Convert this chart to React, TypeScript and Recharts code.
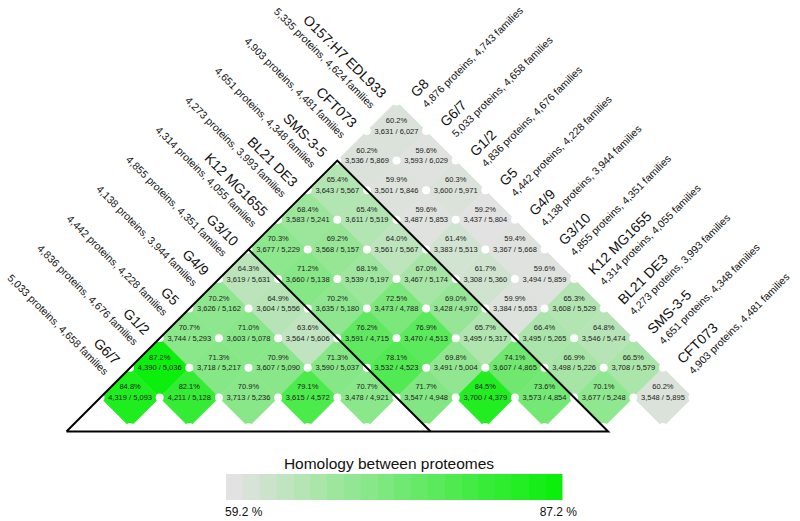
import { ScatterChart, Scatter, XAxis, YAxis } from 'recharts'

// strains read along the two diagonals
const leftStrains = ['O157:H7 EDL933', 'CFT073', 'SMS-3-5', 'BL21 DE3', 'K12 MG1655', 'G3/10', 'G4/9', 'G5', 'G1/2', 'G6/7']
const leftInfo = [
  '5,335 proteins, 4,624 families',
  '4,903 proteins, 4,481 families',
  '4,651 proteins, 4,348 families',
  '4,273 proteins, 3,993 families',
  '4,314 proteins, 4,055 families',
  '4,855 proteins, 4,351 families',
  '4,138 proteins, 3,944 families',
  '4,442 proteins, 4,228 families',
  '4,836 proteins, 4,676 families',
  '5,033 proteins, 4,658 families',
]
const rightStrains = ['G8', 'G6/7', 'G1/2', 'G5', 'G4/9', 'G3/10', 'K12 MG1655', 'BL21 DE3', 'SMS-3-5', 'CFT073']
const rightInfo = [
  '4,876 proteins, 4,743 families',
  '5,033 proteins, 4,658 families',
  '4,836 proteins, 4,676 families',
  '4,442 proteins, 4,228 families',
  '4,138 proteins, 3,944 families',
  '4,855 proteins, 4,351 families',
  '4,314 proteins, 4,055 families',
  '4,273 proteins, 3,993 families',
  '4,651 proteins, 4,348 families',
  '4,903 proteins, 4,481 families',
]

// one row per level of the triangle, left to right
const homology = [
  [60.2],
  [60.2, 59.6],
  [65.4, 59.9, 60.3],
  [68.4, 65.4, 59.6, 59.2],
  [70.3, 69.2, 64.0, 61.4, 59.4],
  [64.3, 71.2, 68.1, 67.0, 61.7, 59.6],
  [70.2, 64.9, 70.2, 72.5, 69.0, 59.9, 65.3],
  [70.7, 71.0, 63.6, 76.2, 76.9, 65.7, 66.4, 64.8],
  [87.2, 71.3, 70.9, 71.3, 78.1, 69.8, 74.1, 66.9, 66.5],
  [84.8, 82.1, 70.9, 79.1, 70.7, 71.7, 84.5, 73.6, 70.1, 60.2],
]
const sharedFamilies = [
  [3631],
  [3536, 3593],
  [3643, 3501, 3600],
  [3583, 3611, 3487, 3437],
  [3677, 3568, 3561, 3383, 3367],
  [3619, 3660, 3539, 3467, 3308, 3494],
  [3626, 3604, 3635, 3473, 3428, 3384, 3608],
  [3744, 3603, 3564, 3591, 3470, 3495, 3495, 3546],
  [4390, 3718, 3607, 3590, 3532, 3491, 3607, 3498, 3708],
  [4319, 4211, 3713, 3615, 3478, 3547, 3700, 3573, 3677, 3548],
]
const totalFamilies = [
  [6027],
  [5869, 6029],
  [5567, 5846, 5971],
  [5241, 5519, 5853, 5804],
  [5229, 5157, 5567, 5513, 5668],
  [5631, 5138, 5197, 5174, 5360, 5859],
  [5162, 5556, 5180, 4788, 4970, 5653, 5529],
  [5293, 5078, 5606, 4715, 4513, 5317, 5265, 5474],
  [5036, 5217, 5090, 5037, 4523, 5004, 4865, 5226, 5579],
  [5093, 5128, 5236, 4572, 4921, 4948, 4379, 4854, 5248, 5895],
]
// groups outlined by black triangles (index into leftStrains)
const groupStarts = [2, 5]

const legendTitle = 'Homology between proteomes'
const legendMin = 59.2
const legendMax = 87.2

const W = 800
const H = 521
const UNIT = 29.6
const OX = 396.5
const OY = 131
const BASE = 10.15
const FONT = '"Liberation Sans", Arial, sans-serif'

const colorFor = (v: number) => {
  const t = Math.max(0, Math.min(1, (v - legendMin) / (legendMax - legendMin)))
  const from = [226, 226, 226]
  const to = [12, 238, 12]
  return `rgb(${from.map((f, i) => Math.round(f + (to[i] - f) * t)).join(',')})`
}
const fmt = (n: number) => n.toLocaleString('en-US')

const cells = homology.flatMap((row, r) =>
  row.map((v, k) => {
    const b = k
    const a = r - k
    return { x: b - a, y: a + b, pct: v, shared: sharedFamilies[r][k], total: totalFamilies[r][k] }
  })
)

const cornerMap = new Map<string, { x: number; y: number }>()
cells.forEach((c) => {
  ;[[1, 0], [-1, 0], [0, 1], [0, -1]].forEach(([dx, dy]) => {
    const p = { x: c.x + dx, y: c.y + dy }
    cornerMap.set(`${p.x},${p.y}`, p)
  })
})
const corners = Array.from(cornerMap.values())

const leftLabels = leftStrains.map((name, a) => ({ x: -a, y: a, name, info: leftInfo[a] }))
const rightLabels = rightStrains.map((name, b) => ({ x: b, y: b, name, info: rightInfo[b] }))

// triangle outlines: apex at top corner of the group's first cell, sides at 45°
const outline = groupStarts.map((g) => {
  const apex = { x: -g, y: g - 1 }
  const span = BASE - apex.y
  return { apex, left: { x: apex.x - span, y: BASE }, right: { x: apex.x + span, y: BASE } }
})
const outerPath = [outline[0].left, outline[0].apex, outline[0].right, outline[0].left]
const innerPath = [outline[1].apex, outline[1].right]

const Diamond = (props: any) => {
  const { cx, cy, payload } = props
  const h = UNIT
  const fill = colorFor(payload.pct)
  return (
    <g>
      <polygon
        points={`${cx},${cy - h} ${cx + h},${cy} ${cx},${cy + h} ${cx - h},${cy}`}
        fill={fill}
        stroke={fill}
        strokeWidth={0.6}
      />
      <text x={cx} y={cy - 10.5} textAnchor="middle" dominantBaseline="central" fontSize={7.5} fill="#222" fontFamily={FONT}>
        {payload.pct.toFixed(1)}%
      </text>
      <text x={cx} y={cy} textAnchor="middle" dominantBaseline="central" fontSize={7.5} fill="#222" fontFamily={FONT}>
        {fmt(payload.shared)} / {fmt(payload.total)}
      </text>
    </g>
  )
}

const Dot = (props: any) => <circle cx={props.cx} cy={props.cy} r={4} fill="#fff" />
const NoMark = () => <g />

const LeftLabel = (props: any) => {
  const { cx, cy, payload } = props
  return (
    <g transform={`translate(${cx - 16},${cy - 32}) rotate(45)`} fontFamily={FONT} fill="#111">
      <text x={0} y={0} textAnchor="end" fontSize={14}>{payload.name}</text>
      <text x={0} y={14.5} textAnchor="end" fontSize={10.5}>{payload.info}</text>
    </g>
  )
}

const RightLabel = (props: any) => {
  const { cx, cy, payload } = props
  return (
    <g transform={`translate(${cx + 20},${cy - 33}) rotate(-45)`} fontFamily={FONT} fill="#111">
      <text x={0} y={0} textAnchor="start" fontSize={14}>{payload.name}</text>
      <text x={0} y={14.5} textAnchor="start" fontSize={10.5}>{payload.info}</text>
    </g>
  )
}

const BANDS = 20

export default function App() {
  return (
    <div style={{ position: 'absolute', left: 0, top: 0, width: W, height: H, background: '#fff' }}>
      <ScatterChart width={W} height={H} margin={{ top: 0, right: 0, bottom: 0, left: 0 }}>
        <XAxis type="number" dataKey="x" domain={[-OX / UNIT, (W - OX) / UNIT]} hide allowDataOverflow />
        <YAxis type="number" dataKey="y" domain={[-OY / UNIT, (H - OY) / UNIT]} hide reversed allowDataOverflow />
        <Scatter data={cells} shape={Diamond} isAnimationActive={false} />
        <Scatter data={corners} shape={Dot} isAnimationActive={false} />
        <Scatter data={outerPath} shape={NoMark} line={{ stroke: '#000', strokeWidth: 2 }} isAnimationActive={false} />
        <Scatter data={innerPath} shape={NoMark} line={{ stroke: '#000', strokeWidth: 2 }} isAnimationActive={false} />
        <Scatter data={leftLabels} shape={LeftLabel} isAnimationActive={false} />
        <Scatter data={rightLabels} shape={RightLabel} isAnimationActive={false} />
      </ScatterChart>
      <svg width={W} height={H} style={{ position: 'absolute', left: 0, top: 0, pointerEvents: 'none' }} fontFamily={FONT}>
        <text x={389} y={469} textAnchor="middle" fontSize={15.5} fill="#111">{legendTitle}</text>
        {Array.from({ length: BANDS }, (_, i) => {
          const x0 = 226
          const w = (562 - 226) / BANDS
          const v = legendMin + ((legendMax - legendMin) * i) / (BANDS - 1)
          return <rect key={i} x={x0 + i * w} y={474} width={w + 0.5} height={26} fill={colorFor(v)} />
        })}
        <text x={225} y={516} fontSize={12} fill="#111">{legendMin.toFixed(1)} %</text>
        <text x={577} y={516} textAnchor="end" fontSize={12} fill="#111">{legendMax.toFixed(1)} %</text>
      </svg>
    </div>
  )
}
